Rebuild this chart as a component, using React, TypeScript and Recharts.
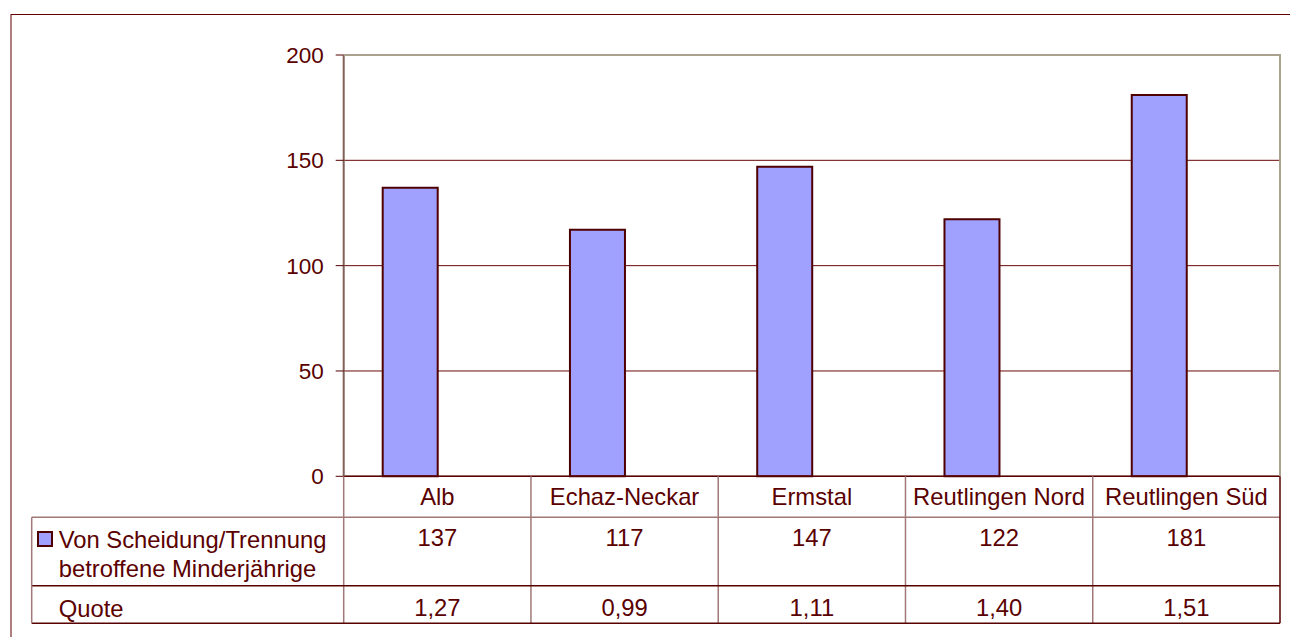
import React from 'react';
import { BarChart, Bar, XAxis, YAxis, CartesianGrid } from 'recharts';

const categories = ['Alb', 'Echaz-Neckar', 'Ermstal', 'Reutlingen Nord', 'Reutlingen Süd'];
const minderjaehrige = [137, 117, 147, 122, 181];
const quote = [1.27, 0.99, 1.11, 1.4, 1.51];
const yTicks = [0, 50, 100, 150, 200];

const seriesLabel = ['Von Scheidung/Trennung', 'betroffene Minderjährige'];
const quoteLabel = 'Quote';

const data = categories.map((name, i) => ({ name, kinder: minderjaehrige[i], quote: quote[i] }));

const W = 1290;
const H = 637;
const PLOT_L = 343.7;
const PLOT_R = 1280;
const PLOT_T = 55;
const PLOT_B = 476.3;
const ROW1_B = 517.3;
const ROW2_B = 585.7;
const TABLE_B = 623.3;
const TABLE_L = 31.7;

const TEXT = '#5a0000';
const DARK = '#560000';
const MAUVE = '#a07878';
const FONT = '"Liberation Sans", Arial, sans-serif';
const TABLE_FS = 23.8;

const fmtQuote = (v: number) => v.toFixed(2).replace('.', ',');

// one column of the data table under each category
function TableColumn(props: any) {
  const { x, payload } = props;
  const i = payload.index;
  const band = (PLOT_R - PLOT_L) / categories.length;
  const right = x + band / 2;
  return (
    <g>
      {i === 0 && <line x1={x - band / 2} x2={x - band / 2} y1={PLOT_B} y2={TABLE_B} stroke={MAUVE} strokeWidth={1.5} />}
      {i < categories.length - 1 && <line x1={right} x2={right} y1={PLOT_B} y2={TABLE_B} stroke={MAUVE} strokeWidth={1.5} />}
      <text x={x} y={496} textAnchor="middle" dominantBaseline="central" fill={TEXT} fontSize={TABLE_FS} fontFamily={FONT}>
        {payload.value}
      </text>
      <text x={x} y={537} textAnchor="middle" dominantBaseline="central" fill={TEXT} fontSize={TABLE_FS} fontFamily={FONT}>
        {minderjaehrige[i]}
      </text>
      <text x={x} y={607} textAnchor="middle" dominantBaseline="central" fill={TEXT} fontSize={TABLE_FS} fontFamily={FONT}>
        {fmtQuote(quote[i])}
      </text>
    </g>
  );
}

export default function App() {
  return (
    <div style={{ position: 'relative', width: W, height: H }}>
      <style>{'body { margin: 0; overflow: hidden; }'}</style>
      <BarChart
        width={W}
        height={H}
        data={data}
        margin={{ top: PLOT_T, right: W - PLOT_R, left: PLOT_L - 60, bottom: 0 }}
        barSize={55}
        barGap={0}
      >
        <CartesianGrid vertical={false} stroke="#6a0808" strokeWidth={1} />
        <XAxis
          dataKey="name"
          height={H - PLOT_B}
          interval={0}
          tickLine={false}
          axisLine={{ stroke: DARK, strokeWidth: 1.5 }}
          tick={<TableColumn />}
        />
        <YAxis
          width={60}
          domain={[0, 200]}
          ticks={yTicks}
          tickSize={8}
          tickMargin={12}
          axisLine={{ stroke: '#806058', strokeWidth: 2 }}
          tickLine={{ stroke: DARK }}
          tick={{ fill: TEXT, fontSize: 22.5, fontFamily: FONT }}
        />
        <Bar dataKey="kinder" fill="#a0a0ff" stroke="#4e0000" strokeWidth={2} isAnimationActive={false} />
        <Bar dataKey="quote" fill="none" stroke="none" isAnimationActive={false} />
      </BarChart>
      <svg width={W} height={H} style={{ position: 'absolute', left: 0, top: 0, pointerEvents: 'none' }}>
        {/* outer frame, open to the right and bottom */}
        <rect x={11} y={14.5} width={2000} height={2000} fill="none" stroke="#600000" strokeWidth={1} />
        {/* plot area border */}
        <line x1={PLOT_L} x2={PLOT_R} y1={PLOT_T} y2={PLOT_T} stroke="#aaa28e" strokeWidth={2} />
        <line x1={PLOT_R} x2={PLOT_R} y1={PLOT_T - 1} y2={PLOT_B} stroke="#aaa28e" strokeWidth={2} />
        {/* data table frame */}
        <line x1={TABLE_L} x2={PLOT_R} y1={ROW1_B} y2={ROW1_B} stroke={MAUVE} strokeWidth={1.5} />
        <line x1={TABLE_L} x2={PLOT_R} y1={ROW2_B} y2={ROW2_B} stroke={DARK} strokeWidth={1.5} />
        <line x1={TABLE_L} x2={PLOT_R} y1={TABLE_B} y2={TABLE_B} stroke={DARK} strokeWidth={1.5} />
        <line x1={TABLE_L} x2={TABLE_L} y1={ROW1_B} y2={TABLE_B} stroke={MAUVE} strokeWidth={1.5} />
        <line x1={PLOT_R} x2={PLOT_R} y1={PLOT_B} y2={TABLE_B} stroke={DARK} strokeWidth={1.5} />
        {/* row labels with legend key */}
        <rect x={38} y={532} width={14} height={14} fill="#a0a0ff" stroke="#4e0000" strokeWidth={2} />
        <text x={58.7} y={539} dominantBaseline="central" fill={TEXT} fontSize={TABLE_FS} fontFamily={FONT}>
          {seriesLabel[0]}
        </text>
        <text x={58.7} y={568} dominantBaseline="central" fill={TEXT} fontSize={TABLE_FS} fontFamily={FONT}>
          {seriesLabel[1]}
        </text>
        <text x={58.7} y={608} dominantBaseline="central" fill={TEXT} fontSize={TABLE_FS} fontFamily={FONT}>
          {quoteLabel}
        </text>
      </svg>
    </div>
  );
}
